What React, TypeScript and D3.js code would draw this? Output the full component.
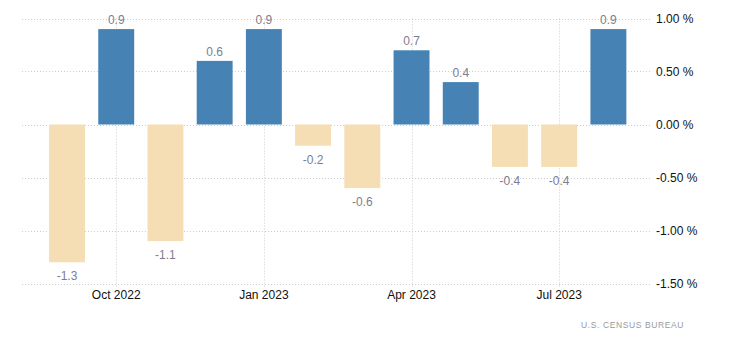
import * as d3 from 'd3';
import { useRef, useEffect } from 'react';

const months = ['Sep 2022', 'Oct 2022', 'Nov 2022', 'Dec 2022', 'Jan 2023', 'Feb 2023', 'Mar 2023', 'Apr 2023', 'May 2023', 'Jun 2023', 'Jul 2023', 'Aug 2023'];
const values = [-1.3, 0.9, -1.1, 0.6, 0.9, -0.2, -0.6, 0.7, 0.4, -0.4, -0.4, 0.9];
const yTicks = [1, 0.5, 0, -0.5, -1, -1.5];
const xTickMonths = ['Oct 2022', 'Jan 2023', 'Apr 2023', 'Jul 2023'];

const width = 730;
const height = 350;

const App = () => {
  const ref = useRef<SVGSVGElement>(null);

  useEffect(() => {
    if (!ref.current) return;
    const svg = d3.select(ref.current);
    svg.selectAll('*').remove();

    const gridLeft = 22;
    const gridRight = 652;

    const x = d3.scaleBand<string>().domain(months).range([42.4, 633]).paddingInner(0.27).paddingOuter(0.135);
    const y = d3.scaleLinear().domain([-1.5, 1]).range([283.5, 18.5]);

    const grid = svg.append('g').attr('stroke', '#cccccc').attr('stroke-dasharray', '1,2');
    grid.selectAll('line.h')
      .data(yTicks)
      .join('line')
      .attr('class', 'h')
      .attr('x1', gridLeft).attr('x2', gridRight)
      .attr('y1', d => Math.round(y(d)) + 0.5).attr('y2', d => Math.round(y(d)) + 0.5);
    grid.selectAll('line.v')
      .data(xTickMonths)
      .join('line')
      .attr('class', 'v')
      .attr('x1', d => Math.round(x(d)! + x.bandwidth() / 2) + 0.5)
      .attr('x2', d => Math.round(x(d)! + x.bandwidth() / 2) + 0.5)
      .attr('y1', y(1)).attr('y2', y(-1.5) + 5);

    svg.append('g')
      .selectAll('rect')
      .data(values)
      .join('rect')
      .attr('x', (d, i) => x(months[i])!)
      .attr('width', x.bandwidth())
      .attr('y', d => y(Math.max(0, d)))
      .attr('height', d => Math.abs(y(d) - y(0)))
      .attr('fill', d => (d >= 0 ? '#4682b4' : '#f5deb3'));

    svg.append('g')
      .attr('font-family', 'Arial, "Liberation Sans", sans-serif')
      .attr('font-size', 12)
      .attr('fill', '#7d7d8f')
      .attr('text-anchor', 'middle')
      .selectAll('text')
      .data(values)
      .join('text')
      .attr('x', (d, i) => x(months[i])! + x.bandwidth() / 2)
      .attr('y', d => (d >= 0 ? y(d) - 5 : y(d) + 18))
      .text(d => d.toFixed(1));

    svg.append('g')
      .attr('font-family', 'Arial, "Liberation Sans", sans-serif')
      .attr('font-size', 12)
      .attr('fill', '#111')
      .selectAll('text')
      .data(yTicks)
      .join('text')
      .attr('x', 656)
      .attr('y', d => y(d) + 4.5)
      .text(d => `${d.toFixed(2)} %`);

    svg.append('g')
      .attr('font-family', 'Arial, "Liberation Sans", sans-serif')
      .attr('font-size', 12)
      .attr('fill', '#111')
      .attr('text-anchor', 'middle')
      .selectAll('text')
      .data(xTickMonths)
      .join('text')
      .attr('x', d => x(d)! + x.bandwidth() / 2)
      .attr('y', 299)
      .text(d => d);

    svg.append('text')
      .attr('x', 684)
      .attr('y', 328)
      .attr('text-anchor', 'end')
      .attr('font-family', 'Arial, "Liberation Sans", sans-serif')
      .attr('font-size', 8.5)
      .attr('letter-spacing', 0.6)
      .attr('fill', '#9a9a9a')
      .text('U.S.  CENSUS BUREAU');
  }, []);

  return (
    <svg
      ref={ref}
      width={width}
      height={height}
      style={{ position: 'absolute', left: 0, top: 0, background: '#fff' }}
    ></svg>
  );
};

export default App;
